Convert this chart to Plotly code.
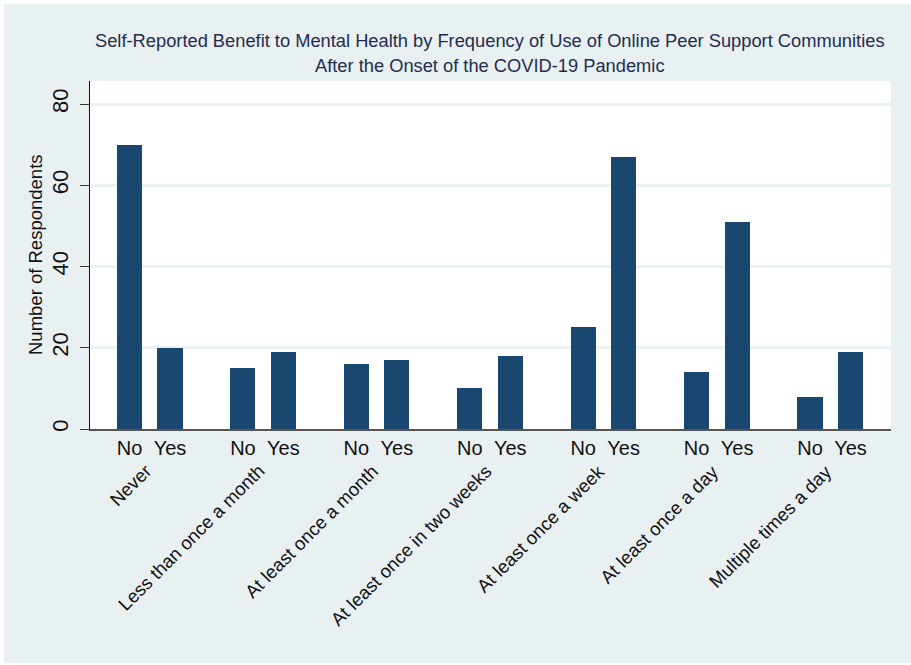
import plotly.graph_objects as go

# ---- data ----
groups = ["Never", "Less than once a month", "At least once a month",
          "At least once in two weeks", "At least once a week",
          "At least once a day", "Multiple times a day"]
benefit_labels = ["No", "Yes"]
no_values = [70, 15, 16, 10, 25, 14, 8]
yes_values = [20, 19, 17, 18, 67, 51, 19]
y_ticks = [0, 20, 40, 60, 80]

# ---- layout helpers ----
GROUP_STEP = 2.8
BAR_W = 0.62
no_x = [i * GROUP_STEP for i in range(len(groups))]
yes_x = [x + 1 for x in no_x]
centers = [x + 0.5 for x in no_x]

BAR_COLOR = "#1A476F"
OUTER = "#E9F0F2"
FONT = "Liberation Sans, Arial, sans-serif"

fig = go.Figure()
fig.add_trace(go.Bar(x=no_x, y=no_values, width=BAR_W, marker_color=BAR_COLOR,
                     marker_line_width=0, showlegend=False))
fig.add_trace(go.Bar(x=yes_x, y=yes_values, width=BAR_W, marker_color=BAR_COLOR,
                     marker_line_width=0, showlegend=False))

tickvals = []
ticktext = []
for a, b in zip(no_x, yes_x):
    tickvals += [a, b]
    ticktext += benefit_labels

W, H = 911, 665
L, R, T, B = 90, 891, 81, 429
pw, ph = R - L, B - T


def px(xp):
    return (xp - L) / pw


def py(yp):
    return (B - yp) / ph


shapes = [
    dict(type="rect", xref="paper", yref="paper", x0=px(4), x1=px(911),
         y0=py(663), y1=py(4), fillcolor=OUTER, line_width=0, layer="below"),
    dict(type="rect", xref="paper", yref="paper", x0=0, x1=1, y0=0, y1=1,
         fillcolor="white", line_width=0, layer="below"),
]

TITLE_COLOR = "#1F2D4E"
annotations = [
    dict(text="Self-Reported Benefit to Mental Health by Frequency of Use of Online Peer Support Communities",
         xref="paper", yref="paper", x=px(490), y=py(40), xanchor="center", yanchor="middle",
         showarrow=False, font=dict(family=FONT, size=18.3, color=TITLE_COLOR)),
    dict(text="After the Onset of the COVID-19 Pandemic",
         xref="paper", yref="paper", x=px(490), y=py(66), xanchor="center", yanchor="middle",
         showarrow=False, font=dict(family=FONT, size=18.3, color=TITLE_COLOR)),
    dict(text="Number of Respondents", xref="paper", yref="paper",
         x=px(35), y=0.5, xanchor="center", yanchor="middle", textangle=-90,
         showarrow=False, font=dict(family=FONT, size=18.5, color="#111111")),
]
for c, g in zip(centers, groups):
    annotations.append(dict(text=g, x=c + 0.2, xref="x", y=py(458), yref="paper",
                            xanchor="right", yanchor="top", textangle=-45,
                            showarrow=False,
                            font=dict(family=FONT, size=18.5, color="#111111")))

fig.update_layout(
    width=W, height=H,
    margin=dict(l=L, r=W - R, t=T, b=H - B, pad=0),
    paper_bgcolor="white", plot_bgcolor="white",
    bargap=0, barmode="overlay",
    font=dict(family=FONT, color="#111111"),
    shapes=shapes, annotations=annotations,
    xaxis=dict(range=[-0.975, 18.8], tickvals=tickvals, ticktext=ticktext,
               tickangle=0, tickfont=dict(size=20, color="#111111"),
               showgrid=False, zeroline=False, showline=True, automargin=False,
               linecolor="#555555", linewidth=2, ticks="", fixedrange=True),
    yaxis=dict(range=[0, 85.7], tickvals=y_ticks, tickangle=-90,
               tickfont=dict(size=22, color="#111111"), automargin=False,
               ticklabelstandoff=3,
               showgrid=True, gridcolor="#EAF2F3", gridwidth=3,
               zeroline=False, showline=True, linecolor="#111111", linewidth=1,
               ticks="outside", ticklen=9, tickcolor="#333333", tickwidth=1,
               fixedrange=True),
)

fig.write_html("out.html", config={"displayModeBar": False, "staticPlot": True},
               post_script="document.body.style.margin='0';document.body.style.overflow='hidden';")
